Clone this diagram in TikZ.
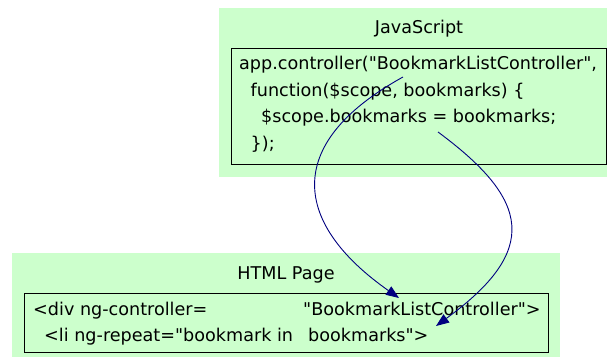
\documentclass[tikz,border=0pt]{standalone}
\usepackage{fontspec}
\setmainfont{DejaVu Sans}[Ligatures=TeXOff]
\usetikzlibrary{arrows.meta}
\definecolor{clustergreen}{HTML}{CCFFCC}
\definecolor{edgeblue}{HTML}{000080}
\tikzset{
  cluster/.style={fill=clustergreen, draw=none},
  codebox/.style={draw=black, line width=0.9pt, fill=clustergreen},
  txt/.style={anchor=base west, inner sep=0pt, font=\fontsize{17.6}{20}\selectfont},
  ttl/.style={anchor=base, inner sep=0pt, font=\fontsize{17.6}{20}\selectfont},
  link/.style={draw=edgeblue, line width=0.9pt, -{Triangle[length=13pt,width=10pt]}, fill=none}
}
\begin{document}
\begin{tikzpicture}[x=1pt,y=-1pt]
\useasboundingbox (0,0) rectangle (607,361);
\fill[white] (0,0) rectangle (607,361);
% JavaScript cluster
\path[cluster] (219,8) rectangle (607,177);
\node[ttl] (jstitle) at (419,34) {JavaScript};
\path[codebox] (231,48) rectangle (606.5,164);
\node[txt] (js1) at (239,69) {app.controller("BookmarkListController",};
\node[txt] (js2) at (250.5,96) {function(\$scope, bookmarks) \{};
\node[txt] (js3) at (261,122.5) {\$scope.bookmarks = bookmarks;};
\node[txt] (js4) at (250.5,149) {\});};
% HTML cluster
\path[cluster] (12,253) rectangle (560,357);
\node[ttl] (htmltitle) at (286,279) {HTML Page};
\path[codebox] (24.5,293) rectangle (548.5,352.5);
\node[txt] (h1a) at (33,315) {<div ng-controller=};
\node[txt] (h1b) at (303,315) {"BookmarkListController">};
\node[txt] (h2a) at (44,341) {<li ng-repeat="bookmark in};
\node[txt] (h2b) at (308,341) {bookmarks">};
% connectors
\coordinate (s1) at (403,77);
\coordinate (e1) at (399,298);
\coordinate (s2) at (438,132);
\coordinate (e2) at (436,326);
\draw[link] (s1) .. controls (280,145) and (295,225) .. (e1);
\draw[link] (s2) .. controls (530,200) and (540,250) .. (e2);
\end{tikzpicture}
\end{document}
